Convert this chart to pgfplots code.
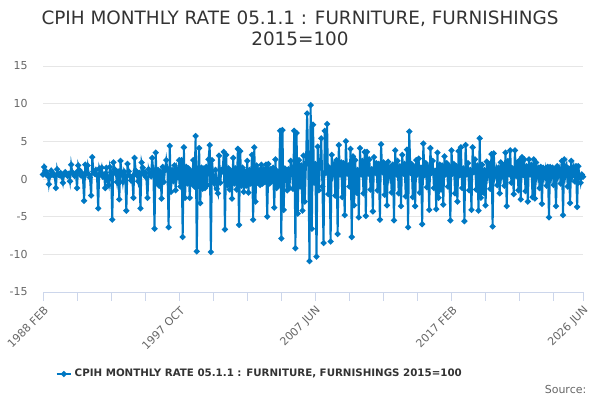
\documentclass[border=0pt]{standalone}
\usepackage{fontspec}
\setmainfont{DejaVu Sans}
\usepackage{pgfplots}
\usepackage{pgfplotstable}
\pgfplotsset{compat=1.18}
\definecolor{series}{RGB}{0,120,195}
\definecolor{gridc}{RGB}{230,230,230}
\definecolor{axisc}{RGB}{204,214,235}
\definecolor{ticktext}{RGB}{102,102,102}
\definecolor{titletext}{RGB}{51,51,51}

\pgfplotstableread[row sep=\\]{
v\\
0.6\\ 1.6\\ 1.1\\ 0.5\\ 0.7\\ -0.7\\ 0.4\\ 1.1\\ 0.6\\ 0.7\\ 0.4\\
-1.2\\ 1.3\\ 0.6\\ 0.5\\ 0.8\\ 0.3\\ -0.5\\ 0.7\\ 0.9\\ 0.6\\ 0.4\\ 0.7\\
-0.3\\ 1.9\\ 0.9\\ 0.6\\ 0.4\\ 0.8\\ -1.2\\ 1.8\\ 1.2\\ 0.5\\ 0.8\\ 0.3\\
-2.9\\ 1.9\\ 0.9\\ 1.8\\ 0.6\\ 0.2\\ -2.2\\ 2.9\\ 1.0\\ 0.7\\ 1.2\\ 0.5\\
-3.9\\ 1.4\\ 0.8\\ 1.5\\ 0.3\\ 0.6\\ -1.2\\ 1.5\\ -0.2\\ -0.8\\ 1.6\\ 0.9\\
-5.4\\ 2.2\\ 1.3\\ 0.7\\ -0.4\\ 1.0\\ -2.7\\ 2.4\\ 0.8\\ -0.4\\ 1.0\\ 0.5\\
-4.2\\ 2.0\\ 1.0\\ 0.4\\ -0.2\\ 0.3\\ -2.5\\ 2.8\\ 1.1\\ 0.5\\ -0.3\\ 0.8\\
-3.9\\ 2.2\\ 1.5\\ 0.6\\ 0.9\\ 0.2\\ -2.5\\ 1.3\\ 0.7\\ 0.4\\ 2.8\\ 1.0\\
-6.6\\ 3.5\\ -0.5\\ 1.2\\ -0.9\\ 1.0\\ -2.6\\ 1.6\\ -0.4\\ 1.3\\ 2.5\\ 1.2\\
-6.4\\ 4.4\\ -1.7\\ 1.2\\ -0.3\\ 1.8\\ -1.5\\ 1.2\\ 0.3\\ 2.5\\ -1.0\\ 2.5\\
-7.7\\ 4.2\\ -2.5\\ 1.6\\ -0.6\\ 1.4\\ -2.5\\ 1.0\\ -0.6\\ 2.5\\ -1.0\\ 5.7\\
-9.6\\ 1.0\\ 4.1\\ -3.2\\ 1.5\\ -1.3\\ 1.4\\ -1.2\\ 1.6\\ -0.8\\ 2.6\\ 4.5\\
-9.7\\ 2.5\\ 0.3\\ -0.6\\ 1.2\\ -1.3\\ -1.9\\ 3.1\\ -0.5\\ 1.2\\ 1.0\\ 3.6\\
-6.7\\ 3.2\\ -0.8\\ 1.4\\ -1.4\\ 1.1\\ -2.6\\ 2.8\\ -0.6\\ 1.4\\ -1.4\\ 4.0\\
-6.1\\ 3.7\\ -0.9\\ 1.5\\ -1.7\\ 1.0\\ -0.9\\ 2.4\\ -1.8\\ 1.2\\ -0.6\\ 3.2\\
-5.4\\ 4.2\\ -3.0\\ 1.8\\ -0.5\\ 1.2\\ -0.8\\ 1.9\\ -0.6\\ 1.3\\ -0.4\\ 1.9\\
-5.0\\ 2.0\\ -0.6\\ 1.3\\ -0.3\\ 1.5\\ -3.8\\ 2.6\\ -1.2\\ 1.0\\ -0.8\\ 6.4\\
-7.9\\ 6.5\\ -4.1\\ 1.4\\ 1.2\\ -1.5\\ 1.3\\ -1.2\\ 2.4\\ 1.3\\ -1.3\\ 6.4\\
-9.2\\ 6.1\\ -4.6\\ 2.5\\ -1.0\\ 1.8\\ -4.2\\ 3.1\\ -3.0\\ 2.0\\ 8.7\\ 2.0\\
-10.9\\ 9.8\\ -6.6\\ 7.2\\ -0.5\\ 2.0\\ -10.3\\ 4.3\\ -1.5\\ 2.0\\ 5.4\\ -1.0\\
-8.5\\ 6.4\\ 0.8\\ 7.3\\ -2.0\\ 1.5\\ -8.3\\ 3.2\\ 0.9\\ 2.0\\ -2.2\\ 2.5\\
-7.3\\ 4.5\\ 0.6\\ 2.2\\ -2.4\\ 2.1\\ -4.8\\ 5.0\\ 0.7\\ 1.8\\ -1.0\\ 4.0\\
-7.7\\ 3.0\\ -3.5\\ 2.5\\ -1.8\\ 1.2\\ -5.1\\ 4.1\\ 0.6\\ 2.4\\ -1.9\\ 3.6\\
-4.9\\ 3.6\\ 0.7\\ 2.6\\ -1.4\\ 1.3\\ -4.3\\ 2.9\\ 0.8\\ 2.1\\ -1.5\\ 2.0\\
-5.4\\ 4.6\\ 0.9\\ 2.2\\ -2.1\\ 1.9\\ -3.5\\ 2.3\\ 0.5\\ 1.6\\ -1.8\\ 1.9\\
-5.5\\ 3.8\\ 0.6\\ 2.4\\ -1.9\\ 1.7\\ -3.6\\ 3.2\\ 0.7\\ 2.0\\ -2.3\\ 3.9\\
-6.4\\ 6.3\\ 0.8\\ 2.0\\ -2.4\\ 1.6\\ -3.6\\ 2.5\\ 0.6\\ 2.7\\ -1.8\\ 1.5\\
-6.0\\ 4.7\\ 0.5\\ 2.1\\ -1.1\\ 1.6\\ -4.1\\ 4.1\\ 0.8\\ 2.4\\ -1.2\\ 1.1\\
-4.0\\ 3.5\\ -2.5\\ 1.9\\ -1.4\\ 1.8\\ -3.4\\ 3.0\\ 0.6\\ 2.1\\ -1.0\\ 1.7\\
-5.5\\ 3.8\\ 0.7\\ 2.0\\ -1.9\\ 1.7\\ -3.0\\ 3.7\\ 0.5\\ 4.2\\ -1.2\\ 1.4\\
-5.6\\ 4.5\\ 0.6\\ 2.1\\ -1.5\\ 1.2\\ -4.1\\ 4.2\\ 0.9\\ 2.6\\ -1.4\\ 1.8\\
-4.2\\ 5.4\\ -2.5\\ 1.9\\ -1.8\\ 1.2\\ -3.5\\ 2.3\\ 0.6\\ 2.0\\ -1.3\\ 3.3\\
-6.3\\ 3.4\\ 0.4\\ 1.2\\ -0.8\\ 1.5\\ -1.9\\ 2.2\\ 0.5\\ 1.8\\ -0.9\\ 3.5\\
-3.6\\ 2.4\\ 0.6\\ 3.8\\ -0.5\\ 1.4\\ -2.0\\ 3.8\\ 0.4\\ 2.2\\ -1.5\\ 2.5\\
-2.7\\ 2.9\\ 0.5\\ 2.6\\ -1.6\\ 1.7\\ -3.0\\ 2.6\\ 0.6\\ 1.9\\ -2.4\\ 2.6\\
-2.6\\ 2.2\\ 0.4\\ 1.5\\ -1.2\\ 1.6\\ -3.3\\ 1.5\\ 0.3\\ 1.2\\ -0.9\\ 1.6\\
-5.1\\ 1.6\\ 0.3\\ 1.5\\ -0.8\\ 1.3\\ -3.6\\ 1.7\\ 0.4\\ 1.2\\ -0.6\\ 2.4\\
-4.8\\ 2.6\\ 0.5\\ 1.6\\ -1.0\\ 1.4\\ -3.2\\ 2.4\\ 0.5\\ 1.5\\ -0.3\\ 1.7\\
-3.7\\ 1.7\\ 0.5\\ -0.5\\ 0.6\\ 0.3\\
}\cpihdata

\begin{document}
\begin{tikzpicture}[x=0.75pt,y=0.75pt]
\path[use as bounding box] (0,0) rectangle (600,400);
\node[font=\fontsize{13.8pt}{15.9pt}\selectfont, text=titletext, align=center] at (300,371.5)
  {CPIH MONTHLY RATE 05.1.1 : FURNITURE, FURNISHINGS\\2015=100};
\begin{axis}[
  at={(32.25pt,81pt)}, anchor=south west,
  scale only axis, width=405pt, height=169.5pt,
  xmin=0, xmax=460, ymin=-15, ymax=15,
  ytick={-15,-10,-5,0,5,10,15},
  xtick={0,116,232,348,460},
  xticklabels={1988 FEB,1997 OCT,2007 JUN,2017 FEB,2026 JUN},
  minor xtick={29,58,87,145,174,203,261,290,319,377,406,435},
  axis x line*=bottom, axis y line*=left,
  x axis line style={draw=axisc, line width=0.75pt, -},
  y axis line style={draw=none},
  xtick align=outside, major tick length=6.5pt, minor tick length=6.5pt,
  tick style={draw=axisc, line width=0.75pt},
  ytick style={draw=none},
  ymajorgrids, grid style={draw=gridc, line width=0.75pt},
  /pgf/number format/assume math mode=true,
  ticklabel style={font=\fontsize{8.25pt}{10pt}\selectfont, text=ticktext},
  yticklabel style={anchor=east, xshift=-8pt},
  xticklabel style={rotate=45, anchor=east, yshift=-6pt, xshift=1pt},
  clip=false,
  legend style={at={(0.402,-0.363)}, anchor=center, draw=none, fill=none,
    font=\fontsize{7.7pt}{9.5pt}\selectfont\bfseries, text=titletext},
  legend image code/.code={\draw[mark repeat=2,mark phase=2,#1] plot coordinates {(0cm,0cm) (0.19cm,0cm) (0.38cm,0cm)};},
]
\addplot[color=series, line width=1.5pt, mark=*, mark size=1.4pt, mark options={solid}]
  table[x expr=\coordindex, y=v] {\cpihdata};
\addlegendentry{CPIH MONTHLY RATE 05.1.1 : FURNITURE, FURNISHINGS 2015=100}
\end{axis}
\node[anchor=east, font=\fontsize{8.25pt}{10pt}\selectfont, text=ticktext] at (591,11) {Source:};
\end{tikzpicture}
\end{document}
